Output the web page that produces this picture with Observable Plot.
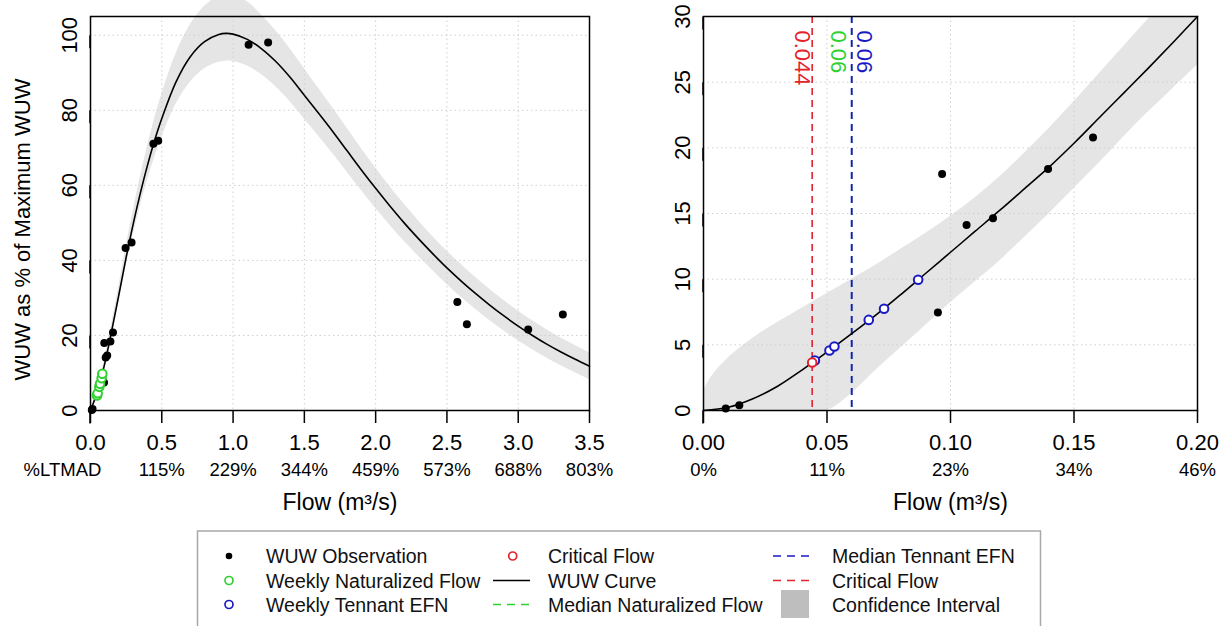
<!DOCTYPE html>
<html><head><meta charset="utf-8">
<script src="https://cdn.jsdelivr.net/npm/d3@7"></script>
<script src="https://cdn.jsdelivr.net/npm/@observablehq/plot@0.6"></script>
<style>
body{margin:0;background:#fff;}
#wrap{position:relative;width:1231px;height:626px;overflow:hidden;font-family:"Liberation Sans",Arial,sans-serif;}
#left{position:absolute;left:0;top:0;}
#right{position:absolute;left:615px;top:0;}
#legend{position:absolute;left:0;top:0;pointer-events:none;}
</style></head><body>
<div id="wrap"><div id="left"></div><div id="right"></div><svg id="legend" width="1231" height="626"></svg></div>
<script>
// ---------- data ----------
// WUW observations (shared by both panels)
const obsX = [0.009, 0.0145, 0.0949, 0.0966, 0.1065, 0.1172, 0.1395, 0.1577, 0.246, 0.288, 0.441, 0.475, 1.109, 1.246, 2.573, 2.64, 3.07, 3.313];
const obsY = [0.15, 0.4, 7.47, 18.0, 14.13, 14.63, 18.38, 20.78, 43.3, 44.8, 71.1, 71.9, 97.5, 98.1, 28.9, 23.0, 21.6, 25.6];
// weekly naturalized flow (left panel)
const naturX = [0.046, 0.050, 0.062, 0.067, 0.078, 0.083];
const naturY = [4.0, 4.6, 6.3, 7.1, 8.6, 9.8];
// weekly Tennant EFN (right panel)
const tennantX = [0.0451, 0.051, 0.053, 0.0669, 0.0731, 0.0869];
const tennantY = [3.81, 4.57, 4.87, 6.9, 7.75, 9.95];
// critical flow point
const criticalX = [0.044];
const criticalY = [3.66];
// left WUW curve and confidence band
const leftCurveX = [0, 0.05, 0.1, 0.15, 0.2, 0.25, 0.3, 0.35, 0.4, 0.45, 0.5, 0.6, 0.7, 0.8, 0.9, 0.95, 1.0, 1.1, 1.2, 1.3, 1.4, 1.5, 1.6, 1.7, 1.8, 1.9, 2.0, 2.1, 2.2, 2.3, 2.4, 2.5, 2.6, 2.7, 2.8, 2.9, 3.0, 3.1, 3.2, 3.3, 3.4, 3.5];
const leftCurveY = [0, 5.2, 12.5, 21.5, 31, 40.8, 49.8, 58, 65.4, 72, 77.8, 87.6, 94.3, 98.3, 100.2, 100.5, 100.3, 98.9, 96.4, 93.0, 88.8, 84.0, 79.2, 74.3, 69.2, 64.1, 59.2, 54.5, 50.0, 45.8, 41.8, 38.0, 34.5, 31.2, 28.1, 25.2, 22.5, 20.0, 17.7, 15.6, 13.65, 11.8];
const leftLower = [0, 4.4, 11.3, 19.9, 29.0, 38.3, 46.8, 54.5, 61.4, 67.5, 72.8, 81.6, 87.5, 91.1, 92.8, 93.1, 93.0, 91.8, 89.5, 86.3, 82.3, 77.7, 73.1, 68.4, 63.5, 58.6, 53.9, 49.4, 45.1, 41.1, 37.3, 33.6, 30.2, 27.0, 24.0, 21.2, 18.6, 16.2, 14.0, 11.9, 10.05, 8.2];
const leftUpper = [0, 6.0, 13.8, 23.3, 33.3, 43.7, 53.3, 62.2, 70.4, 77.8, 84.3, 95.1, 102.8, 107.7, 110.4, 111.0, 110.8, 108.9, 105.4, 101.2, 96.4, 91.1, 85.9, 80.6, 75.2, 69.8, 64.6, 59.7, 55.0, 50.6, 46.4, 42.5, 38.9, 35.5, 32.3, 29.3, 26.5, 23.9, 21.5, 19.3, 17.35, 15.4];
// right WUW curve and confidence band
const rightCurveX = [0, 0.01, 0.02, 0.03, 0.04, 0.05, 0.06, 0.07, 0.08, 0.09, 0.10, 0.11, 0.12, 0.13, 0.14, 0.15, 0.16, 0.17, 0.18, 0.19, 0.20];
const rightCurveY = [0, 0.25, 0.9, 1.85, 3.1, 4.45, 5.85, 7.3, 8.85, 10.45, 12.05, 13.65, 15.25, 16.9, 18.55, 20.35, 22.25, 24.15, 26.05, 28.0, 30.0];
const rightBandX = [0, 0.002, 0.005, 0.01, 0.02, 0.03, 0.04, 0.05, 0.06, 0.07, 0.08, 0.09, 0.10, 0.11, 0.12, 0.13, 0.14, 0.15, 0.16, 0.17, 0.18, 0.19, 0.20];
const rightLower = [0, 0, 0, 0, 0, 0, 0, 0, 1.3, 3.1, 4.8, 6.5, 8.2, 9.8, 11.4, 13.2, 15.0, 16.9, 18.8, 20.8, 22.7, 24.5, 26.3];
const rightUpper = [1.5, 2.2, 3.0, 4.0, 5.5, 6.7, 7.8, 8.9, 10.0, 11.1, 12.3, 13.5, 14.8, 16.2, 17.8, 19.6, 21.5, 23.5, 25.6, 27.7, 29.8, 31.8, 33.8];
// reference lines
const vlineX = [0.06, 0.06, 0.044];
const vlineLabel = ["0.06", "0.06", "0.044"];
const vlineName = ["Median Naturalized Flow", "Median Tennant EFN", "Critical Flow"];
// ticks
const leftXTicks = [0, 0.5, 1.0, 1.5, 2.0, 2.5, 3.0, 3.5];
const leftYTicks = [0, 20, 40, 60, 80, 100];
const leftPct = ["%LTMAD", "115%", "229%", "344%", "459%", "573%", "688%", "803%"];
const rightXTicks = [0, 0.05, 0.10, 0.15, 0.20];
const rightYTicks = [0, 5, 10, 15, 20, 25, 30];
const rightPct = ["0%", "11%", "23%", "34%", "46%"];
const xTitle = "Flow (m³/s)";
const yTitle = "WUW as % of Maximum WUW";

// ---------- styles ----------
const FONT = '"Liberation Sans", Arial, sans-serif';
const RED = "#e3222b", BLUE = "#1a1ac4", GREEN = "#2fd12f", BAND = "#e5e5e5", GRID = "#cfcfcf";

const zip = (xs, ys) => xs.map((x, i) => ({x, y: ys[i]}));
const obs = zip(obsX, obsY);
const natur = zip(naturX, naturY);
const tennant = zip(tennantX, tennantY);
const critical = zip(criticalX, criticalY);
const leftCurve = zip(leftCurveX, leftCurveY);
const leftBand = leftCurveX.map((x, i) => ({x, lo: leftLower[i], hi: leftUpper[i]}));
const rightCurve = zip(rightCurveX, rightCurveY);
const rightBand = rightBandX.map((x, i) => ({x, lo: rightLower[i], hi: rightUpper[i]}));
const vlineColor = {"Median Naturalized Flow": GREEN, "Median Tennant EFN": BLUE, "Critical Flow": RED};
const vlineWidth = {"Median Naturalized Flow": 1.3, "Median Tennant EFN": 1.9, "Critical Flow": 1.6};
const vlines = vlineX.map((x, i) => ({x, label: vlineLabel[i], name: vlineName[i], color: vlineColor[vlineName[i]], w: vlineWidth[vlineName[i]]}));
const leftPctRows = leftXTicks.map((x, i) => ({x, t: leftPct[i]}));
const rightPctRows = rightXTicks.map((x, i) => ({x, t: rightPct[i]}));

const grid = (xt, yt) => [
  Plot.gridX({ticks: xt, stroke: GRID, strokeOpacity: 1, strokeWidth: 1, strokeDasharray: "1.5,3"}),
  Plot.gridY({ticks: yt, stroke: GRID, strokeOpacity: 1, strokeWidth: 1, strokeDasharray: "1.5,3"})
];
const axes = (xt, yt, fmt) => [
  Plot.frame({stroke: "black", strokeWidth: 1.5}),
  Plot.axisX({ticks: xt, tickFormat: fmt, tickSize: 13, tickPadding: 11, fontSize: 22, strokeWidth: 1.5, label: null}),
  Plot.axisY({ticks: yt, tickSize: 13, tickPadding: 8, fontSize: 22, rotate: -90, textAnchor: "middle", lineAnchor: "middle", strokeWidth: 1.5, label: null})
];

const left = Plot.plot({
  width: 615, height: 525,
  marginLeft: 90, marginRight: 26, marginTop: 16, marginBottom: 115,
  x: {domain: [0, 3.5], label: null},
  y: {domain: [0, 105], label: null},
  style: {fontFamily: FONT, background: "transparent", color: "black", overflow: "visible"},
  marks: [
    Plot.areaY(leftBand, {x: "x", y1: "lo", y2: "hi", fill: BAND, curve: "catmull-rom"}),
    ...grid(leftXTicks.slice(1, -1), leftYTicks.slice(1)),
    Plot.line(leftCurve, {x: "x", y: "y", stroke: "black", strokeWidth: 1.6, curve: "catmull-rom"}),
    Plot.dot(obs, {x: "x", y: "y", r: 4, fill: "black"}),
    Plot.dot(natur, {x: "x", y: "y", r: 4.3, stroke: GREEN, strokeWidth: 2, fill: "white"}),
    ...axes(leftXTicks, leftYTicks, d3.format(".1f")),
    Plot.text(leftPctRows.slice(1), {x: "x", text: "t", frameAnchor: "bottom", lineAnchor: "top", dy: 52, fontSize: 18.5}),
    Plot.text(leftPctRows.slice(0, 1), {x: "x", text: "t", frameAnchor: "bottom", lineAnchor: "top", dy: 52, dx: -28, fontSize: 18.5}),
    Plot.text([xTitle], {text: d => d, frameAnchor: "bottom", lineAnchor: "top", dy: 83, fontSize: 23}),
    Plot.text([yTitle], {text: d => d, frameAnchor: "left", dx: -68, dy: 16, rotate: -90, textAnchor: "middle", lineAnchor: "middle", fontSize: 22})
  ]
});
document.getElementById("left").append(left);

const right = Plot.plot({
  width: 616, height: 525,
  marginLeft: 88, marginRight: 34, marginTop: 16, marginBottom: 115,
  x: {domain: [0, 0.2], label: null},
  y: {domain: [0, 30], label: null},
  style: {fontFamily: FONT, background: "transparent", color: "black", overflow: "visible"},
  marks: [
    Plot.areaY(rightBand, {x: "x", y1: "lo", y2: "hi", fill: BAND, curve: "catmull-rom", clip: true}),
    ...grid(rightXTicks.slice(1, -1), rightYTicks.slice(1, -1)),
    Plot.ruleX(vlines, {x: "x", stroke: "color", strokeWidth: "w", strokeDasharray: "7,5"}),
    Plot.text(vlines.filter(d => d.name === "Critical Flow"), {x: "x", text: "label", fill: "color", frameAnchor: "top", rotate: 90, textAnchor: "start", lineAnchor: "middle", dx: -10.5, dy: 14, fontSize: 22}),
    Plot.text(vlines.filter(d => d.name === "Median Naturalized Flow"), {x: "x", text: "label", fill: "color", frameAnchor: "top", rotate: 90, textAnchor: "start", lineAnchor: "middle", dx: -13.5, dy: 14, fontSize: 22}),
    Plot.text(vlines.filter(d => d.name === "Median Tennant EFN"), {x: "x", text: "label", fill: "color", frameAnchor: "top", rotate: 90, textAnchor: "start", lineAnchor: "middle", dx: 12.5, dy: 14, fontSize: 22}),
    Plot.line(rightCurve, {x: "x", y: "y", stroke: "black", strokeWidth: 1.6, curve: "catmull-rom"}),
    Plot.dot(obs.filter(d => d.x <= 0.2), {x: "x", y: "y", r: 4, fill: "black"}),
    Plot.dot(tennant, {x: "x", y: "y", r: 4.3, stroke: BLUE, strokeWidth: 2, fill: "white"}),
    Plot.dot(critical, {x: "x", y: "y", r: 4.3, stroke: RED, strokeWidth: 2, fill: "white"}),
    ...axes(rightXTicks, rightYTicks, d3.format(".2f")),
    Plot.text(rightPctRows, {x: "x", text: "t", frameAnchor: "bottom", lineAnchor: "top", dy: 52, fontSize: 18.5}),
    Plot.text([xTitle], {text: d => d, frameAnchor: "bottom", lineAnchor: "top", dy: 83, fontSize: 23})
  ]
});
document.getElementById("right").append(right);

// ---------- legend ----------
const lg = d3.select("#legend");
lg.append("rect").attr("x", 197.5).attr("y", 531).attr("width", 843).attr("height", 120)
  .attr("fill", "white").attr("stroke", "#a8a8a8").attr("stroke-width", 1.5);
const rows = [556, 580.5, 604.5];
const items = [
  {col: 0, row: 0, text: "WUW Observation", sym: "dot", color: "black"},
  {col: 0, row: 1, text: "Weekly Naturalized Flow", sym: "circle", color: GREEN},
  {col: 0, row: 2, text: "Weekly Tennant EFN", sym: "circle", color: BLUE},
  {col: 1, row: 0, text: "Critical Flow", sym: "circle", color: RED},
  {col: 1, row: 1, text: "WUW Curve", sym: "line", color: "black"},
  {col: 1, row: 2, text: "Median Naturalized Flow", sym: "dash", color: GREEN},
  {col: 2, row: 0, text: "Median Tennant EFN", sym: "dash", color: BLUE},
  {col: 2, row: 1, text: "Critical Flow", sym: "dash", color: RED},
  {col: 2, row: 2, text: "Confidence Interval", sym: "rect", color: "#bebebe"}
];
const colText = [266, 548, 832];
const colSymPoint = [229, 512.7, 795];
const colLine = [[493, 530], [493, 530], [773, 813]];
items.forEach(it => {
  const y = rows[it.row];
  if (it.sym === "dot") lg.append("circle").attr("cx", colSymPoint[it.col]).attr("cy", y).attr("r", 3.3).attr("fill", it.color);
  if (it.sym === "circle") lg.append("circle").attr("cx", colSymPoint[it.col]).attr("cy", y).attr("r", 4).attr("fill", "none").attr("stroke", it.color).attr("stroke-width", 1.7);
  if (it.sym === "line" || it.sym === "dash") lg.append("line").attr("x1", colLine[it.col][0]).attr("x2", colLine[it.col][1]).attr("y1", y).attr("y2", y)
      .attr("stroke", it.color).attr("stroke-width", 1.6).attr("stroke-dasharray", it.sym === "dash" ? "8,6" : null);
  if (it.sym === "rect") lg.append("rect").attr("x", 781).attr("y", y - 14.5).attr("width", 28).attr("height", 28).attr("fill", it.color);
  lg.append("text").attr("x", colText[it.col]).attr("y", y + 7).attr("font-size", 19.5)
    .attr("font-family", FONT).attr("fill", "#111").text(it.text);
});
</script>
</body></html>
